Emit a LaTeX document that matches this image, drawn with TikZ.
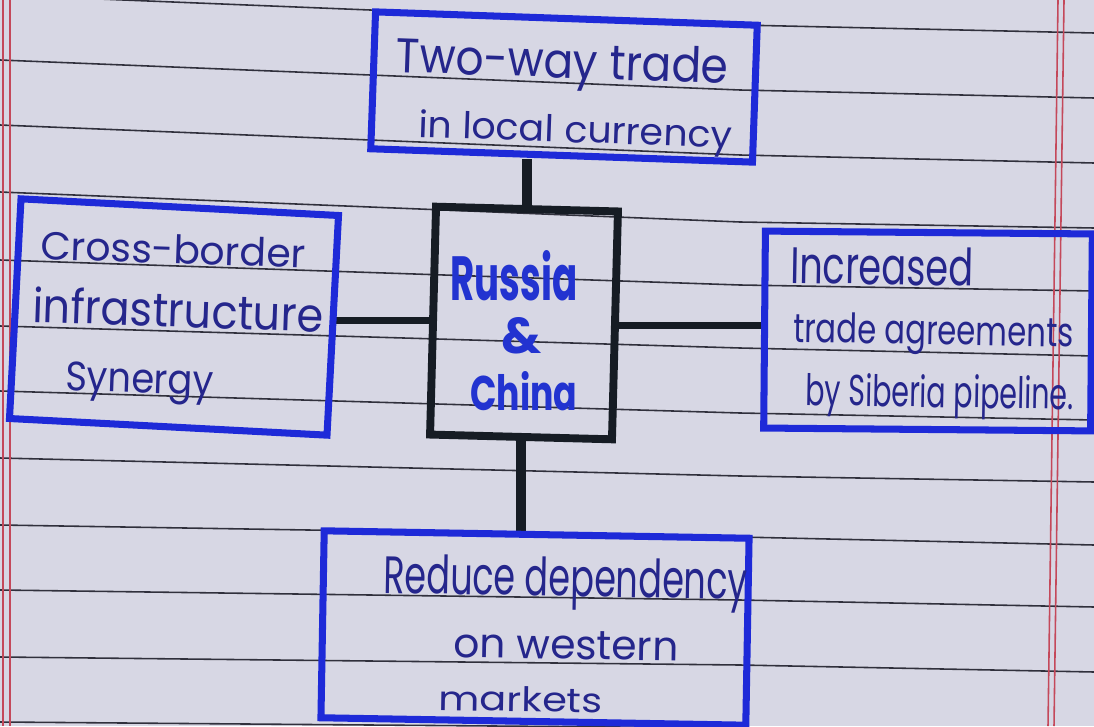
\documentclass[tikz,border=0pt]{standalone}
\usepackage{fontspec}
\usepackage{graphicx}
\setmainfont{Poppins}
\usetikzlibrary{backgrounds}
\definecolor{paper}{HTML}{D7D7E4}
\definecolor{rulecol}{HTML}{30303C}
\definecolor{margincol}{HTML}{C4485A}
\definecolor{boxblue}{HTML}{1E2AD8}
\definecolor{ink}{HTML}{25268C}
\definecolor{inkblue}{HTML}{2233D0}
\definecolor{blackink}{HTML}{161C24}
\newcommand\hwline[3]{\resizebox{#1}{#2}{#3}}
\tikzset{
  paperline/.style={rulecol, line width=0.9pt},
  marginline/.style={margincol, line width=0.9pt},
  bluebox/.style={draw=boxblue, line width=4pt, inner sep=0pt},
  hubbox/.style={draw=blackink, line width=4.5pt, inner sep=0pt},
  link/.style={draw=blackink},
  hand/.style={text=ink, inner sep=0pt, anchor=base west},
  hubtext/.style={text=inkblue, inner sep=0pt, font=\bfseries}
}
\begin{document}
\begin{tikzpicture}[x=0.02cm,y=-0.02cm]
\useasboundingbox (0,0) rectangle (1094,726);
\clip (0,0) rectangle (1094,726);
\begin{scope}[on background layer]
  \fill[paper] (0,0) rectangle (1094,726);
  \foreach \l/\m/\r in {-5/25/33, 60/90/98, 125/155/163, 192/222/228, 260/285/291,
                         326/348/356, 391/413/420, 458/476/482, 525/537/545,
                         590/600/607, 657/665/672, 722/728/735}
    \draw[paperline] (0,\l) -- (740,\m) -- (1094,\r);
  \draw[marginline] (3,0) -- (3,726);
  \draw[marginline] (10,0) -- (10,726);
  \draw[marginline] (1058,0) -- (1048,726);
  \draw[marginline] (1064,0) -- (1054,726);
\end{scope}

% boxes
\node[bluebox, minimum width=7.64cm, minimum height=2.74cm, rotate=-2] (top) at (564,87) {};
\node[bluebox, minimum width=6.36cm, minimum height=4.4cm, rotate=-3] (left) at (174,317) {};
\node[hubbox, minimum width=3.64cm, minimum height=4.56cm, rotate=-1.5] (hub) at (524,323) {};
\node[bluebox, minimum width=6.54cm, minimum height=3.94cm, rotate=-0.5] (right) at (928,331) {};
\node[bluebox, minimum width=8.5cm, minimum height=3.74cm, rotate=-1] (bottom) at (535,628) {};

% connectors
\begin{scope}[on background layer]
  \draw[link, line width=5.5pt] (hub.north) -- (hub.north |- top.south);
  \draw[link, line width=3.5pt] (hub.west) -- (hub.west -| left.east);
  \draw[link, line width=4pt] (hub.east) -- (hub.east -| right.west);
  \draw[link, line width=6pt] (hub.south) -- (hub.south |- bottom.north);
\end{scope}

% texts
\node[hand, rotate=-2] (top1) at (395,72) {\hwline{6.66cm}{0.72cm}{Two-way trade}};
\node[hand, rotate=-2] (top2) at (418,137) {\hwline{6.28cm}{0.56cm}{in local currency}};

\node[hand, rotate=-2] (left1) at (40,259) {\hwline{5.3cm}{0.58cm}{Cross-border}};
\node[hand, rotate=-2] (left2) at (32,322) {\hwline{5.82cm}{0.72cm}{infrastructure}};
\node[hand, rotate=-2] (left3) at (65,390) {\hwline{2.96cm}{0.58cm}{Synergy}};

\node[hand, rotate=-1] (right1) at (790,283) {\hwline{3.66cm}{0.76cm}{Increased}};
\node[hand, rotate=-1] (right2) at (793,342) {\hwline{5.6cm}{0.6cm}{trade agreements}};
\node[hand, rotate=-1] (right3) at (805,405) {\hwline{5.36cm}{0.66cm}{by Siberia pipeline.}};

\node[hand, rotate=-1] (bottom1) at (383,593) {\hwline{7.28cm}{0.78cm}{Reduce dependency}};
\node[hand, rotate=-1] (bottom2) at (453,657) {\hwline{4.5cm}{0.56cm}{on western}};
\node[hand, rotate=-1] (bottom3) at (438,710) {\hwline{3.28cm}{0.5cm}{markets}};

\node[hubtext, anchor=base west] (hub1) at (450,300) {\resizebox{2.54cm}{1.0cm}{Russia}};
\node[hubtext, anchor=center] (hub2) at (522,336) {\resizebox{!}{0.72cm}{\&}};
\node[hubtext, anchor=base west] (hub3) at (470,410) {\resizebox{2.14cm}{0.78cm}{China}};
\end{tikzpicture}
\end{document}
